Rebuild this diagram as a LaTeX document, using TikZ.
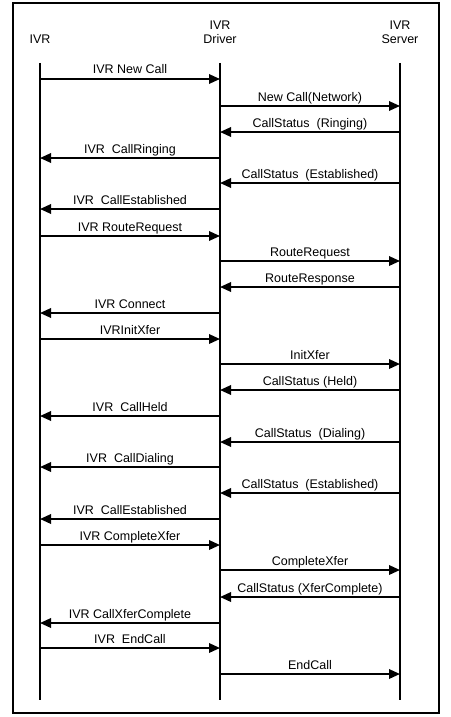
\documentclass[tikz,border=0pt]{standalone}
\usepackage{fontspec}
\setmainfont{Liberation Sans}
\usetikzlibrary{arrows.meta,calc,positioning}

\tikzset{
  hd/.style={anchor=south, inner sep=0pt, text depth=0pt, align=center, font=\fontsize{12.5}{14}\selectfont},
  life/.style={line width=1.8pt},
  msg/.style={line width=1.8pt, -{Triangle[length=11pt,width=9.5pt]}},
  lbl/.style={anchor=base, inner sep=0pt, yshift=5pt, font=\fontsize{12.5}{14}\selectfont}
}

\begin{document}
\begin{tikzpicture}[x=1pt, y=-1pt]
    \useasboundingbox (0,0) rectangle (450,717);
    \draw[line width=1.8pt] (13,3) rectangle (439,713);
    \node(ivrHead) [hd] at (40,44) {IVR};
    \node(drvHead) [hd] at (220,44) {IVR\\Driver};
    \node(srvHead) [hd] at (400,44) {IVR\\Server};
    \coordinate (ivr) at (40,63);
    \coordinate (drv) at (220,63);
    \coordinate (srv) at (400,63);
    \coordinate (ivrEnd) at (40,700);
    \coordinate (drvEnd) at (220,700);
    \coordinate (srvEnd) at (400,700);
    \draw[life] (ivr) -- (ivrEnd);
    \draw[life] (drv) -- (drvEnd);
    \draw[life] (srv) -- (srvEnd);
    \foreach \y/\from/\to/\txt in {
        79/ivr/drv/IVR New Call,
        106/drv/srv/New Call(Network),
        132/srv/drv/CallStatus\ \ (Ringing),
        158/drv/ivr/IVR\ \ CallRinging,
        183/srv/drv/CallStatus\ \ (Established),
        209/drv/ivr/IVR\ \ CallEstablished,
        236/ivr/drv/IVR RouteRequest,
        261/drv/srv/RouteRequest,
        287/srv/drv/RouteResponse,
        313/drv/ivr/IVR Connect,
        339/ivr/drv/IVRInitXfer,
        364/drv/srv/InitXfer,
        390/srv/drv/CallStatus\ (Held),
        416/drv/ivr/IVR\ \ CallHeld,
        442/srv/drv/CallStatus\ \ (Dialing),
        467/drv/ivr/IVR\ \ CallDialing,
        493/srv/drv/CallStatus\ \ (Established),
        519/drv/ivr/IVR\ \ CallEstablished,
        545/ivr/drv/IVR CompleteXfer,
        570/drv/srv/CompleteXfer,
        597/srv/drv/CallStatus (XferComplete),
        623/drv/ivr/IVR CallXferComplete,
        648/ivr/drv/IVR\ \ EndCall,
        674/drv/srv/EndCall}
      \draw[msg] (\from |- 0,\y) -- node[lbl] {\txt} (\to |- 0,\y);
  \end{tikzpicture}
\end{document}
